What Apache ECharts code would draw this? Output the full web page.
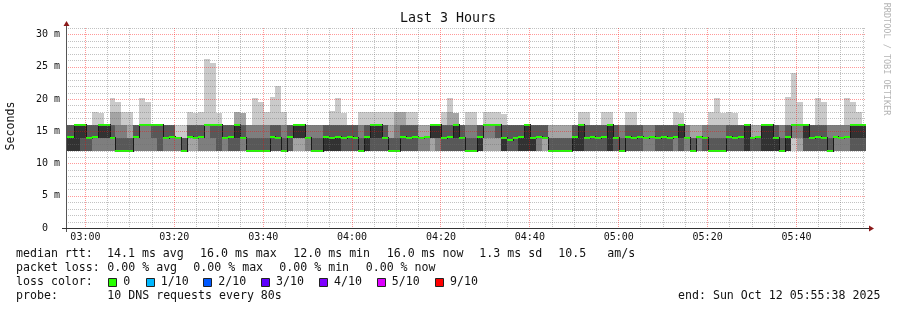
<!DOCTYPE html>
<html><head><meta charset="utf-8">
<script src="https://cdn.jsdelivr.net/npm/echarts@6/dist/echarts.min.js"></script>
<style>html,body{margin:0;padding:0;background:#fff}#c{width:897px;height:310px}</style>
</head><body><div id="c"></div>
<script>
// ---------- data ----------
const rangeStart = '02:55:38';
const rangeEnd = '05:55:38';
const firstStepStart = '02:54:46';
const stepSeconds = 80;
// 10 sorted ping RTTs (ms) per 80 s step
const pings = [
[12,12,12,12,12,14,16,16,16,16],
[12,12,12,12,12,14,16,16,16,16],
[12,12,12,12,12,16,16,16,16,16],
[12,12,12,12,14,16,16,16,16,16],
[12,12,12,12,14,14,16,16,16,16],
[12,12,12,14,14,14,16,16,16,18],
[12,12,12,14,14,16,16,16,16,17.8],
[12,12,12,14,14,16,16,16,16,16],
[12,12,12,14,14,14,16,16,18,20.2],
[12,12,12,12,12,12,14,16,18,19.5],
[12,12,12,12,12,12,14,16,16,18],
[12,12,12,12,12,12,14,14,16,18],
[12,12,12,14,14,14,16,16,16,16],
[12,12,12,16,16,16,16,16,16,20.2],
[12,12,12,16,16,16,16,16,16,19.5],
[12,12,12,14,16,16,16,16,16,16],
[12,12,12,12,16,16,16,16,16,16],
[12,12,12,14,14,14,16,16,16,16],
[12,12,12,14,14,14,16,16,16,16],
[12,12,12,14,14,14,14,14,14,16],
[12,12,12,12,12,12,14,14,14,16],
[12,12,14,14,14,14,16,16,16,18],
[12,12,14,14,14,14,16,16,16,17.8],
[12,12,12,14,14,14,16,16,16,18],
[12,12,12,16,16,16,16,16,16,26.2],
[12,12,12,14,16,16,16,16,16,25.5],
[12,12,12,12,16,16,16,16,16,17.8],
[12,12,12,14,14,14,16,16,16,16],
[12,12,12,12,14,14,16,16,16,16],
[12,12,12,12,14,16,16,16,18,18],
[12,12,12,14,14,14,16,16,17.8,17.8],
[12,12,12,12,12,12,14,16,16,16],
[12,12,12,12,12,12,14,16,16,20.2],
[12,12,12,12,12,12,14,16,16,19.5],
[12,12,12,12,12,12,14,16,16,18],
[12,12,12,12,14,14,16,16,16,20.3],
[12,12,12,12,14,14,16,16,16,22],
[12,12,12,12,12,12,14,16,16,18],
[12,12,12,12,14,14,16,16,16,16],
[12,12,14,14,14,16,16,16,16,16],
[12,12,14,14,14,16,16,16,16,16],
[12,12,12,14,14,14,14,16,16,16],
[12,12,12,12,12,12,14,16,16,16],
[12,12,12,12,12,12,14,16,16,16],
[12,12,12,12,12,14,16,16,16,16],
[12,12,12,12,12,14,16,16,16,18.1],
[12,12,12,12,12,14,16,16,16,20.1],
[12,12,12,12,14,14,16,16,16,17.9],
[12,12,12,12,14,14,16,16,16,16],
[12,12,12,12,14,14,16,16,16,16],
[12,12,12,12,12,12,14,16,16,18],
[12,12,12,12,12,14,16,16,16,18],
[12,12,12,12,14,16,16,16,16,18],
[12,12,12,12,14,16,16,16,16,18],
[12,12,12,12,14,14,16,16,16,18],
[12,12,12,12,12,12,14,14,16,18],
[12,12,12,12,12,12,14,16,18,18],
[12,12,12,12,14,14,16,16,18,18],
[12,12,12,12,14,14,16,16,16,18],
[12,12,12,12,14,14,16,16,16,18],
[12,12,12,14,14,14,14,14,16,16],
[12,12,12,14,14,14,14,14,16,16],
[12,12,14,14,14,16,16,16,16,16],
[12,12,12,14,14,16,16,16,16,16],
[12,12,12,12,14,14,16,16,16,18],
[12,12,12,12,14,14,16,16,18,20.1],
[12,12,12,12,14,16,16,16,17.9,17.9],
[12,12,12,12,14,14,16,16,16,16],
[12,12,12,12,12,12,14,16,16,18],
[12,12,12,12,12,12,14,16,16,18],
[12,12,12,12,12,14,16,16,16,16],
[12,12,14,16,16,16,16,16,16,18],
[12,12,14,16,16,16,16,16,16,18],
[12,12,14,14,16,16,16,16,16,18],
[12,12,12,12,12,14,16,16,16,17.6],
[12,12,12,12,13.6,13.6,16,16,16,16],
[12,12,12,12,14,14,16,16,16,16],
[12,12,12,12,12,14,16,16,16,16],
[12,12,12,12,12,16,16,16,16,16],
[12,12,12,12,12,14,16,16,16,16],
[12,12,12,14,14,14,16,16,16,16],
[12,12,14,14,14,14,16,16,16,16],
[12,12,12,12,12,12,14,14,16,16],
[12,12,12,12,12,12,14,14,16,16],
[12,12,12,12,12,12,14,14,16,16],
[12,12,12,12,12,12,14,14,16,16],
[12,12,12,12,12,14,16,16,16,16],
[12,12,12,12,12,16,16,16,16,18],
[12,12,12,12,14,14,16,16,16,18],
[12,12,12,12,14,14,16,16,16,16],
[12,12,12,12,14,14,16,16,16,16],
[12,12,12,12,14,14,16,16,16,18],
[12,12,12,12,12,16,16,16,16,18],
[12,12,12,12,14,14,16,16,16,16],
[12,12,12,12,12,12,14,16,16,16],
[12,12,12,12,14,14,16,16,16,18],
[12,12,12,12,14,14,16,16,16,18],
[12,12,12,12,14,14,16,16,16,16],
[12,12,12,14,14,14,14,16,16,16],
[12,12,12,14,14,14,14,16,16,16],
[12,12,12,12,14,14,16,16,16,16],
[12,12,12,12,14,14,16,16,16,16],
[12,12,12,12,14,14,16,16,16,16],
[12,12,12,14,14,14,16,16,16,18],
[12,12,12,12,14,16,16,16,16,17.8],
[12,12,12,14,14,14,14,16,16,16],
[12,12,12,12,12,12,14,14,16,16],
[12,12,12,14,14,14,14,14,16,16],
[12,12,12,12,14,14,14,16,16,16],
[12,12,12,12,12,12,14,16,16,18],
[12,12,12,12,12,12,14,16,16,20.1],
[12,12,12,12,12,12,14,16,16,17.8],
[12,12,12,12,14,14,16,16,16,18],
[12,12,12,12,14,14,16,16,16,17.8],
[12,12,12,12,14,14,16,16,16,16],
[12,12,12,12,12,16,16,16,16,16],
[12,12,12,12,14,14,14,14,16,16],
[12,12,12,12,14,14,14,14,16,16],
[12,12,12,12,12,16,16,16,16,16],
[12,12,12,12,12,16,16,16,16,16],
[12,12,12,12,12,14,16,16,16,16],
[12,12,12,12,12,12,14,16,16,16],
[12,12,12,12,12,14,16,16,16,20.3],
[12,14,14,16,16,16,16,16,16,24.1],
[12,12,14,16,16,16,16,16,16,19.5],
[12,12,12,12,14,16,16,16,16,16],
[12,12,12,12,14,14,16,16,16,16],
[12,12,12,12,14,14,16,16,16,20.2],
[12,12,12,12,14,14,16,16,16,19.5],
[12,12,12,12,12,12,14,16,16,16],
[12,12,12,14,14,14,14,16,16,16],
[12,12,12,14,14,14,14,16,16,16],
[12,12,12,14,14,14,14,16,16,20.2],
[12,12,12,12,14,16,16,16,16,19.5],
[12,12,12,12,14,16,16,16,16,18],
[12,12,12,12,14,16,16,16,16,16]
];
// median RTT (ms) per step
const median = [
14.15,14.15,16,16,13.9,14.1,16,16,13.9,12,
12,12,14.15,16,16,16,16,13.9,14.15,13.9,
12,14.15,13.9,14.15,16,16,16,13.9,14.15,16,
13.9,12,12,12,12,14.15,13.9,12,14.15,16,
16,13.9,12,12,14.15,13.9,14.15,13.9,14.05,13.9,
12,14.15,16,16,13.9,12,12,14.15,13.9,14.15,
13.9,14.15,16,16,13.9,14.15,16,13.9,12,12,
14.15,16,16,16,13.9,13.6,13.9,14.15,16,13.9,
14.15,13.9,12,12,12,12,14.15,16,13.9,14.15,
13.9,14.15,16,13.9,12,14.15,13.9,14.15,13.9,14.15,
13.9,14.15,13.9,14.15,16,13.9,12,14.15,13.9,12,
12,12,14.15,13.9,14.15,16,13.9,14.15,16,16,
13.9,12,14.15,16,16,16,13.9,14.15,13.9,12,
14.15,13.9,14.15,16,16,16
];
const yMajorTicks = [0,5,10,15,20,25,30];
const yMax = 31;
const xMajorTickLabels = ['03:00','03:20','03:40','04:00','04:20','04:40','05:00','05:20','05:40'];
const lossColors = ['#26ff00','#00b8ff','#0059ff','#5e00ff','#7e00ff','#dd00ff','#ff0000'];
const lossLabels = ['0','1/10','2/10','3/10','4/10','5/10','9/10'];
const statsMedian = ['14.1 ms avg','16.0 ms max','12.0 ms min','16.0 ms now','1.3 ms sd','10.5','am/s'];
const statsLoss = ['0.00 % avg','0.00 % max','0.00 % min','0.00 % now'];
const probeText = '10 DNS requests every 80s';
const endText = 'end: Sun Oct 12 05:55:38 2025';

// ---------- helpers ----------
function toMin(s){const p=s.split(':').map(Number);return p[0]*60+p[1]+(p[2]||0)/60;}
function fmt(m){const h=Math.floor(m/60),mm=Math.round(m-h*60);return String(h).padStart(2,'0')+':'+String(mm).padStart(2,'0');}
const xMin = toMin(rangeStart), xMax = toMin(rangeEnd);
const t0 = toMin(firstStepStart), dt = stepSeconds/60;
const xMajor = xMajorTickLabels.map(toMin);
const xMinor = [];
for (let m = Math.ceil(xMin/5)*5; m <= xMax; m += 5) if (xMajor.indexOf(m) < 0) xMinor.push(m);
const yMinor = [];
for (let v = 1; v <= yMax; v++) if (yMajorTicks.indexOf(v) < 0) yMinor.push(v);
const smokeGreys = ['#cacaca','#a4a4a4','#7e7e7e','#585858','#323232'];
const MONO = '"DejaVu Sans Mono", monospace';

const seriesData = pings.map((row, j) => [t0 + j*dt, t0 + (j+1)*dt, median[j]].concat(row));
// grid lines: [orientation (0 = vertical, 1 = horizontal), value, major?]
const gridData = []
  .concat(xMinor.map(v=>[0,v,0]))
  .concat(yMinor.map(v=>[1,v,0]))
  .concat(xMajor.map(v=>[0,v,1]))
  .concat(yMajorTicks.filter(v=>v>0).map(v=>[1,v,1]));

const G = {left:66, top:28, width:800, height:200};
const minorColor = 'rgba(110,110,110,0.42)';
const majorColor = 'rgba(255,0,0,0.40)';
const chart = echarts.init(document.getElementById('c'), null, {renderer:'canvas'});

const legendY = [254.3, 268.3, 282.3, 296];
const graphics = [];
function txt(x, y, s){
  graphics.push({type:'text', x:x, y:y, z:10,
    style:{text:s, font:'11.6px '+MONO, fill:'#111', align:'left', verticalAlign:'middle'}});
}
graphics.push({type:'text', x:448, y:19, z:10, style:{text:'Last 3 Hours', font:'13.3px '+MONO, fill:'#111', align:'center', verticalAlign:'middle'}});
graphics.push({type:'text', x:11, y:126, rotation:Math.PI/2, z:10, style:{text:'Seconds', font:'11.6px '+MONO, fill:'#111', align:'center', verticalAlign:'middle'}});
graphics.push({type:'text', x:886.5, y:59, rotation:-Math.PI/2, z:10, style:{text:'RRDTOOL / TOBI OETIKER', font:'8.5px '+MONO, fill:'#b4b4b4', align:'center', verticalAlign:'middle'}});
txt(16, legendY[0], 'median rtt:');
const medX = [107,200,293.3,386.7,479.3,558.3,607.3];
statsMedian.forEach((s,i)=>txt(medX[i], legendY[0], s));
txt(16, legendY[1], 'packet loss:');
const lossX = [107.3,193.3,279.3,365.7];
statsLoss.forEach((s,i)=>txt(lossX[i], legendY[1], s));
txt(16, legendY[2], 'loss color:');
const boxX = [108.3,145.7,203.3,261,319,376.7,435];
lossColors.forEach((c,i)=>{
  graphics.push({type:'rect', z:10, shape:{x:Math.round(boxX[i])+0.5, y:278.5, width:8, height:8}, style:{fill:c, stroke:'#222', lineWidth:1}});
  txt(boxX[i]+15, legendY[2], lossLabels[i]);
});
txt(16, legendY[3], 'probe:');
txt(107.3, legendY[3], probeText);
txt(678, legendY[3], endText);
const axX = G.left, axY = G.top + G.height, axR = G.left + G.width;
graphics.push({type:'line', z:9, shape:{x1:axX+0.5, y1:axY+4, x2:axX+0.5, y2:G.top-5}, style:{stroke:'#555', lineWidth:1}});
graphics.push({type:'line', z:9, shape:{x1:axX-4, y1:axY+0.5, x2:axR+3, y2:axY+0.5}, style:{stroke:'#333', lineWidth:1}});
graphics.push({type:'polygon', z:9, shape:{points:[[axX+0.5-3,G.top-2],[axX+0.5+3,G.top-2],[axX+0.5,G.top-7]]}, style:{fill:'#8b1a1a'}});
graphics.push({type:'polygon', z:9, shape:{points:[[axR+3,axY+0.5-3],[axR+3,axY+0.5+3],[axR+8,axY+0.5]]}, style:{fill:'#8b1a1a'}});

chart.setOption({
  backgroundColor:'#ffffff',
  animation:false,
  grid:{left:G.left, top:G.top, width:G.width, height:G.height, containLabel:false},
  xAxis:[{type:'value', min:xMin, max:xMax, position:'bottom',
     axisLine:{show:false}, axisTick:{show:false, customValues:xMajor},
     axisLabel:{show:true, customValues:xMajor, formatter:v=>fmt(v), fontFamily:'DejaVu Sans Mono', fontSize:10, color:'#111', margin:4},
     splitLine:{show:false}}],
  yAxis:[{type:'value', min:0, max:yMax, position:'left',
     axisLine:{show:false}, axisTick:{show:false, customValues:yMajorTicks},
     axisLabel:{show:true, customValues:yMajorTicks, formatter:v=> v===0 ? '0  ' : v+' m', fontFamily:'DejaVu Sans Mono', fontSize:10, color:'#111', margin:6},
     splitLine:{show:false}}],
  graphic: graphics,
  series:[{
    type:'custom', clip:true, z:2,
    encode:{x:[0,1], y:[2]},
    data: seriesData,
    renderItem: function(params, api){
      const j = params.dataIndex;
      const xs = Math.round(api.coord([api.value(0),0])[0]);
      const xe = Math.round(api.coord([api.value(1),0])[0]);
      const children = [];
      for (let i=0;i<5;i++){
        const lo = api.value(3+i), hi = api.value(12-i);
        if (hi > lo){
          const yl = Math.round(api.coord([0,lo])[1]);
          const yh = Math.round(api.coord([0,hi])[1]);
          children.push({type:'rect', shape:{x:xs, y:yh, width:xe-xs, height:yl-yh}, style:{fill:smokeGreys[i]}});
        }
      }
      const ym = Math.round(api.coord([0, api.value(2)])[1]);
      if (j > 0){
        const yp = Math.round(api.coord([0, median[j-1]])[1]);
        if (yp !== ym) children.push({type:'line', shape:{x1:xs+0.5, y1:Math.min(yp,ym)-1, x2:xs+0.5, y2:Math.max(yp,ym)+1}, style:{stroke:'#1a1a1a', lineWidth:1}});
      }
      children.push({type:'rect', shape:{x:xs, y:ym-1, width:xe-xs+1, height:2}, style:{fill:lossColors[0]}});
      return {type:'group', children:children};
    }
  },{
    type:'custom', clip:true, z:4, silent:true,
    encode:{x:1, y:1},
    data: gridData,
    renderItem: function(params, api){
      const cs = params.coordSys;
      const style = {stroke: api.value(2) === 1 ? majorColor : minorColor, lineWidth:1, lineDash:[1,1]};
      if (api.value(0) === 0){
        const x = Math.floor(api.coord([api.value(1),0])[0]) + 0.5;
        return {type:'line', shape:{x1:x, y1:cs.y, x2:x, y2:cs.y+cs.height}, style:style};
      } else {
        const y = Math.round(api.coord([xMin, api.value(1)])[1]) + 0.5;
        return {type:'line', shape:{x1:cs.x, y1:y, x2:cs.x+cs.width, y2:y}, style:style};
      }
    }
  }]
});
</script></body></html>
